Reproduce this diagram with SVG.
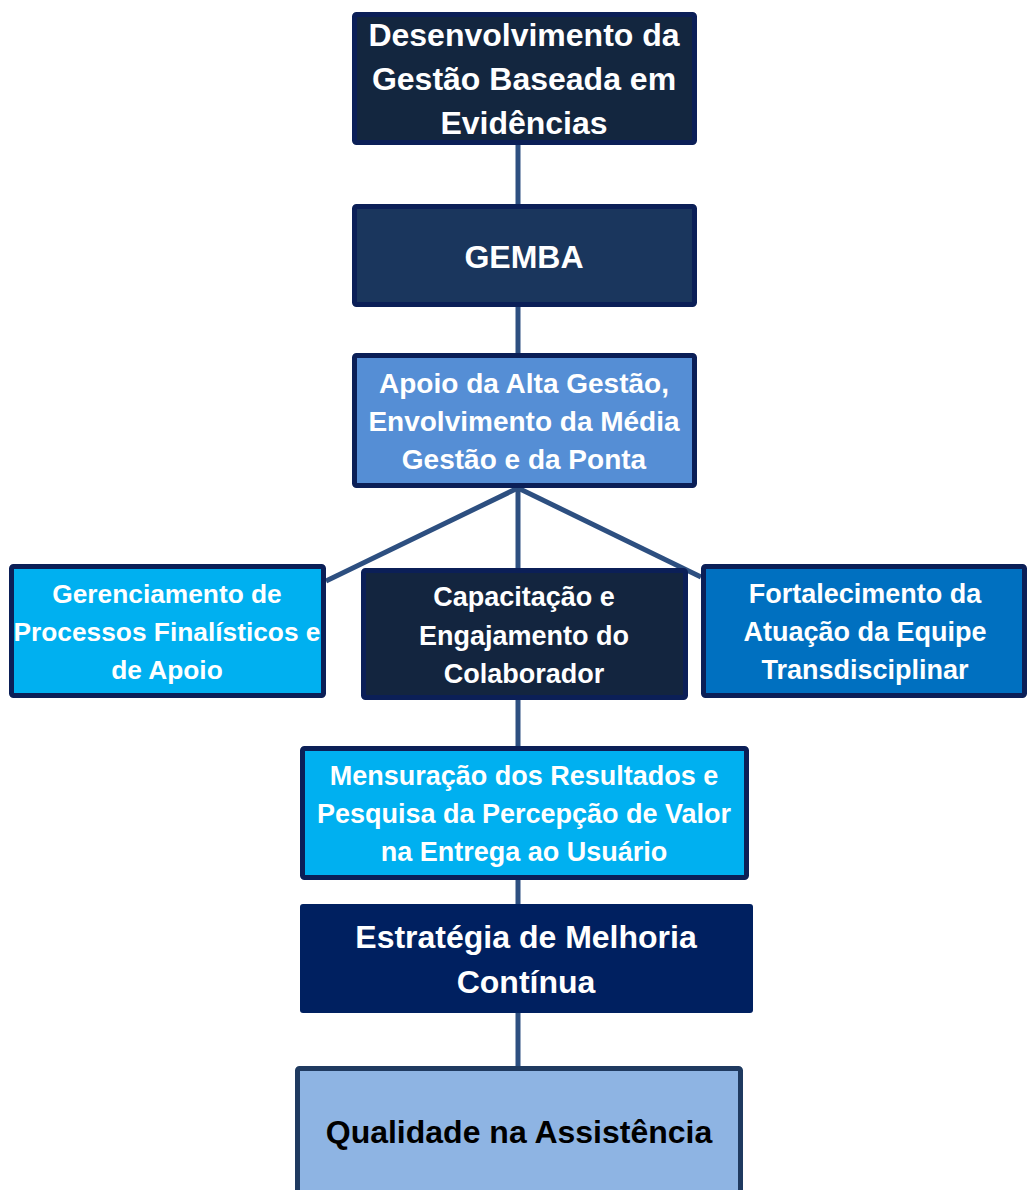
<svg xmlns="http://www.w3.org/2000/svg" width="1027" height="1190" viewBox="0 0 1027 1190">
<style>
.box{stroke:#0b1f57;stroke-width:5;stroke-linejoin:round}
.t{font-family:"Liberation Sans",Arial,sans-serif;font-weight:bold;fill:#ffffff;text-anchor:middle}
.big{font-size:32px}
.mid{font-size:28px}
.sm{font-size:27px}
.xs{font-size:26.3px}
.conn{stroke:#2d4f80;stroke-width:5;fill:none}
</style>
<rect width="1027" height="1190" fill="#ffffff"/>
<g id="connectors">
<line class="conn" x1="518" y1="144" x2="518" y2="205"/>
<line class="conn" x1="518" y1="306" x2="518" y2="354"/>
<line class="conn" x1="518" y1="486" x2="518" y2="569"/>
<line class="conn" x1="518" y1="488" x2="326" y2="581"/>
<line class="conn" x1="518" y1="488" x2="701" y2="577"/>
<line class="conn" x1="518" y1="699" x2="518" y2="747"/>
<line class="conn" x1="518" y1="878" x2="518" y2="905"/>
<line class="conn" x1="518" y1="1012" x2="518" y2="1067"/>
</g>
<g id="n1">
<rect class="box" x="354.5" y="14.5" width="340" height="128" rx="2" fill="#13263f"/>
<text class="t big" x="524" y="46">Desenvolvimento da</text>
<text class="t big" x="524" y="90">Gestão Baseada em</text>
<text class="t big" x="524" y="134">Evidências</text>
</g>
<g id="n2">
<rect class="box" x="354.5" y="206.5" width="340" height="98" rx="2" fill="#1a365d"/>
<text class="t big" x="524" y="268">GEMBA</text>
</g>
<g id="n3">
<rect class="box" x="354.5" y="355.5" width="340" height="130" rx="2" fill="#558ed5"/>
<text class="t mid" x="524" y="393">Apoio da Alta Gestão,</text>
<text class="t mid" x="524" y="431">Envolvimento da Média</text>
<text class="t mid" x="524" y="469">Gestão e da Ponta</text>
</g>
<g id="n4">
<rect class="box" x="11.5" y="566.5" width="312" height="129" rx="2" fill="#00b0f0"/>
<text class="t xs" x="167" y="603">Gerenciamento de</text>
<text class="t xs" x="167" y="641">Processos Finalísticos e</text>
<text class="t xs" x="167" y="679">de Apoio</text>
</g>
<g id="n5">
<rect class="box" x="363.5" y="570.5" width="322" height="127" rx="2" fill="#13253f"/>
<text class="t sm" x="524" y="606">Capacitação e</text>
<text class="t sm" x="524" y="645">Engajamento do</text>
<text class="t sm" x="524" y="683">Colaborador</text>
</g>
<g id="n6">
<rect class="box" x="703.5" y="566.5" width="321" height="129" rx="2" fill="#0070c0"/>
<text class="t sm" x="865" y="603">Fortalecimento da</text>
<text class="t sm" x="865" y="641">Atuação da Equipe</text>
<text class="t sm" x="865" y="679">Transdisciplinar</text>
</g>
<g id="n7">
<rect class="box" x="302.5" y="748.5" width="444" height="129" rx="2" fill="#00b0f0"/>
<text class="t sm" x="524" y="785">Mensuração dos Resultados e</text>
<text class="t sm" x="524" y="823">Pesquisa da Percepção de Valor</text>
<text class="t sm" x="524" y="861">na Entrega ao Usuário</text>
</g>
<g id="n8">
<rect x="300" y="904" width="453" height="109" rx="3" fill="#002060"/>
<text class="t big" x="526" y="948">Estratégia de Melhoria</text>
<text class="t big" x="526" y="993">Contínua</text>
</g>
<g id="n9">
<rect x="297.5" y="1068.5" width="443" height="140" rx="2" fill="#8eb4e3" stroke="#1f3a60" stroke-width="5"/>
<text class="t big" x="519" y="1143" style="fill:#000000">Qualidade na Assistência</text>
</g>
</svg>
